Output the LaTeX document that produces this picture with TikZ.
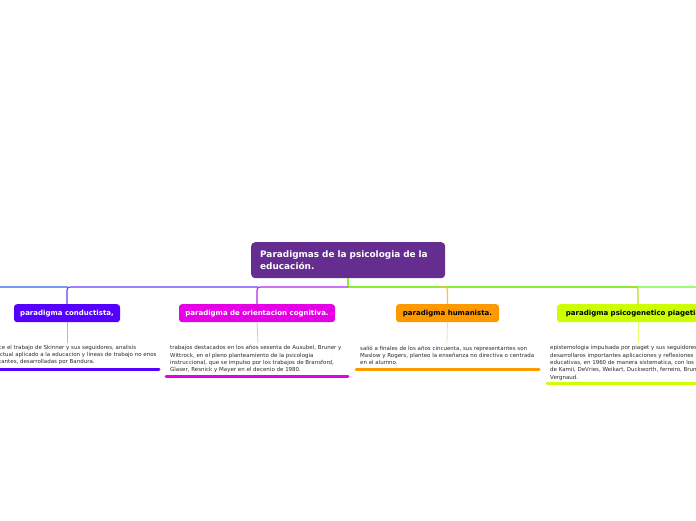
\documentclass[tikz,border=0pt]{standalone}
\usepackage{fontspec}
\setmainfont{DejaVu Sans}
\definecolor{rootc}{HTML}{662D91}
\definecolor{condc}{HTML}{5500FF}
\definecolor{cogc}{HTML}{E600E6}
\definecolor{humc}{HTML}{FF9900}
\definecolor{piac}{HTML}{CCFF00}
\definecolor{greenl}{HTML}{88EE33}
\definecolor{greenr}{HTML}{99FF77}
\definecolor{bluel}{HTML}{7799EE}
\definecolor{blueb}{HTML}{6640F8}
\definecolor{purpb}{HTML}{BB22EE}
\definecolor{bodyc}{HTML}{2A2A2A}
\tikzset{
  rootbox/.style={draw=none, fill=rootc, rounded corners=4pt, text=white,
    font=\fontsize{8.9}{12}\selectfont\bfseries, align=left,
    text width=176pt, inner xsep=9pt, minimum height=36pt, anchor=north west},
  branchbox/.style={rounded corners=3pt, font=\fontsize{7}{8}\selectfont\bfseries,
    minimum height=18pt, inner xsep=6pt, anchor=north},
  bodytext/.style={font=\fontsize{5.5}{7.3}\selectfont, text=bodyc, align=left,
    inner sep=0pt, anchor=north west},
  mainline/.style={line width=1.3pt},
  dropline/.style={line width=1.1pt, rounded corners=3pt},
  subline/.style={line width=0.8pt},
  bar/.style={line width=3pt, line cap=round}
}
\begin{document}
\begin{tikzpicture}[x=1pt, y=-1pt]
\useasboundingbox (0,0) rectangle (696,520);
\clip (0,0) rectangle (696,520);
\fill[white] (0,0) rectangle (696,520);

% root
\node[rootbox] (root) at (251,242) {Paradigmas de la psicologia de la\\educación.};

% junction coordinates on the main line
\coordinate (hc) at (348,287);
\coordinate (lft) at (0,287);
\coordinate (rgt) at (696,287);
\coordinate (j1) at (258,287);
\coordinate (j2) at (447,287);
\coordinate (j3) at (638,287);
\coordinate (j0) at (68,287);

% branch nodes
\node[branchbox, fill=condc, text=white, minimum width=106pt] (n1) at (67,304) {paradigma conductista,};
\node[branchbox, fill=cogc, text=white, minimum width=156pt] (n2) at (257,304) {paradigma de orientacion cognitiva.};
\node[branchbox, fill=humc, text=black, minimum width=103pt] (n3) at (447.5,304) {paradigma humanista.};
\node[branchbox, fill=piac, text=black, minimum width=162pt] (n4) at (638,304) {paradigma psicogenetico piagetiano};

% main lines
\draw[mainline, greenl] (root.south -| hc) -- (hc);
\draw[mainline, bluel] (lft) -- (j0);
\draw[mainline, greenr] (j3) -- (rgt);
\draw[mainline, greenl] (hc) -- (j3);
\draw[dropline, blueb] (j1) -| (n1.north);
\draw[dropline, purpb] (hc) -| (n2.north);
\draw[dropline, humc!70] ([xshift=-8pt]j2) -| (n3.north);
\draw[dropline, piac!85!black!90] ([xshift=-8pt]j3) -| (n4.north);

% body texts
\node[bodytext] (t1) at (-17,345) {Produce el trabajo de Skinner y sus seguidores, analisis\\conductual aplicado a la educacion y lineas de trabajo no enos\\importantes, desarrolladas por Bandura.};
\node[bodytext] (t2) at (170,345.5) {trabajos destacados en los años sesenta de Ausubel, Bruner y\\Wittrock, en el pleno planteamiento de la psicologia\\instruccional, que se impulso por los trabajos de Bransford,\\Glaser, Resnick y Mayer en el decenio de 1980.};
\node[bodytext] (t3) at (360,345.5) {salió a finales de los años cincuenta, sus representantes son\\Maslow y Rogers, planteo la enseñanza no directiva o centrada\\en el alumno.};
\node[bodytext] (t4) at (550,345.5) {epistemologia impulsada por piaget y sus seguidores\\desarrollaros importantes aplicaciones y reflexiones\\educativas, en 1960 de manera sistematica, con los\\de Kamii, DeVries, Weikart, Duckworth, ferreiro, Bruner,\\Vergnaud.};

% sub connectors from branch to text
\coordinate (s1) at (67,343);
\coordinate (s2) at (258,343);
\coordinate (s3) at (447,343);
\coordinate (s4) at (638,343);
\draw[subline, condc!35] (n1.south) -- (s1);
\draw[subline, cogc!35] (n2.south) -- (s2);
\draw[subline, humc!35] (n3.south) -- (s3);
\draw[subline, piac!60] (n4.south) -- (s4);

% underline bars
\coordinate (b1a) at (-5,369); \coordinate (b1b) at (159,369);
\coordinate (b2a) at (166,376); \coordinate (b2b) at (348,376);
\coordinate (b3a) at (356,369); \coordinate (b3b) at (539,369);
\coordinate (b4a) at (547,383); \coordinate (b4b) at (700,383);
\draw[bar, condc] (b1a) -- (b1b);
\draw[bar, cogc] (b2a) -- (b2b);
\draw[bar, humc] (b3a) -- (b3b);
\draw[bar, piac] (b4a) -- (b4b);
\end{tikzpicture}
\end{document}
